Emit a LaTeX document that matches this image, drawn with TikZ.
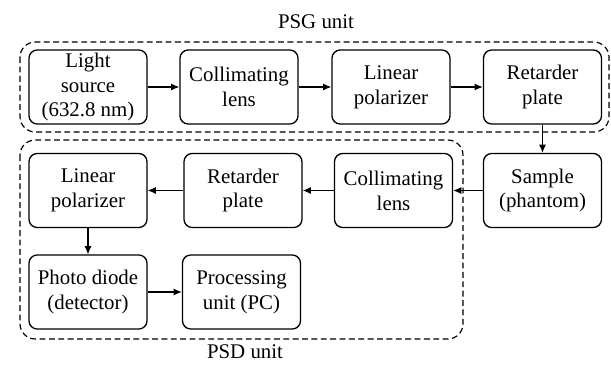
\documentclass[tikz,border=0pt]{standalone}
\usepackage{fontspec}
\setmainfont{Liberation Serif}
\usepackage{tikz}
\usetikzlibrary{positioning,calc,arrows.meta}

\tikzset{
	block/.style={draw, line width=1.1pt, rounded corners=7pt, align=center,
		minimum width=3.54cm, minimum height=2.22cm, inner sep=1pt,
		font=\fontsize{17.8}{21.3}\selectfont},
	unitbox/.style={draw, line width=1pt, rounded corners=13pt, dash pattern=on 5pt off 3pt},
	unitlabel/.style={font=\fontsize{17.8}{21.3}\selectfont},
	flow/.style={-{Latex[length=7pt,width=6pt]}, line width=1pt}
}

\begin{document}
\begin{tikzpicture}[x=0.03cm,y=-0.03cm]
			\useasboundingbox (0,0) rectangle (611,365);
			\begin{scope}
				% dashed unit frames
				\draw[unitbox] (20,42) rectangle (609,132);
				\draw[unitbox] (20,140) rectangle (463,339);
				
				\node[unitlabel] (psg) at (316,22) {PSG unit};
				\node[unitlabel] (psd) at (245,352) {PSD unit};
				
				% PSG row
				\node[block] (src)  at (88,87)    {Light\\source\\(632.8 nm)};
				\node[block] (col1) at (239,87)   {Collimating\\lens};
				\node[block] (pol1) at (391,87)   {Linear\\polarizer};
				\node[block] (ret1) at (542.5,87) {Retarder\\plate};
				
				% sample and PSD rows
				\node[block] (smp)  at (542.5,190.5) {Sample\\(phantom)};
				\node[block] (col2) at (393.5,190.5) {Collimating\\lens};
				\node[block] (ret2) at (243,190.5)   {Retarder\\plate};
				\node[block] (pol2) at (88,190.5)    {Linear\\polarizer};
				\node[block] (det)  at (88,292)      {Photo diode\\(detector)};
				\node[block] (pc)   at (241.5,292)   {Processing\\unit (PC)};
				
				\draw[flow] (src) -- (col1);
				\draw[flow] (col1) -- (pol1);
				\draw[flow] (pol1) -- (ret1);
				\draw[flow] (ret1) -- (smp);
				\draw[flow] (smp) -- (col2);
				\draw[flow] (col2) -- (ret2);
				\draw[flow] (ret2) -- (pol2);
				\draw[flow] (pol2) -- (det);
				\draw[flow] (det) -- (pc);
			\end{scope}
		\end{tikzpicture}
\end{document}
